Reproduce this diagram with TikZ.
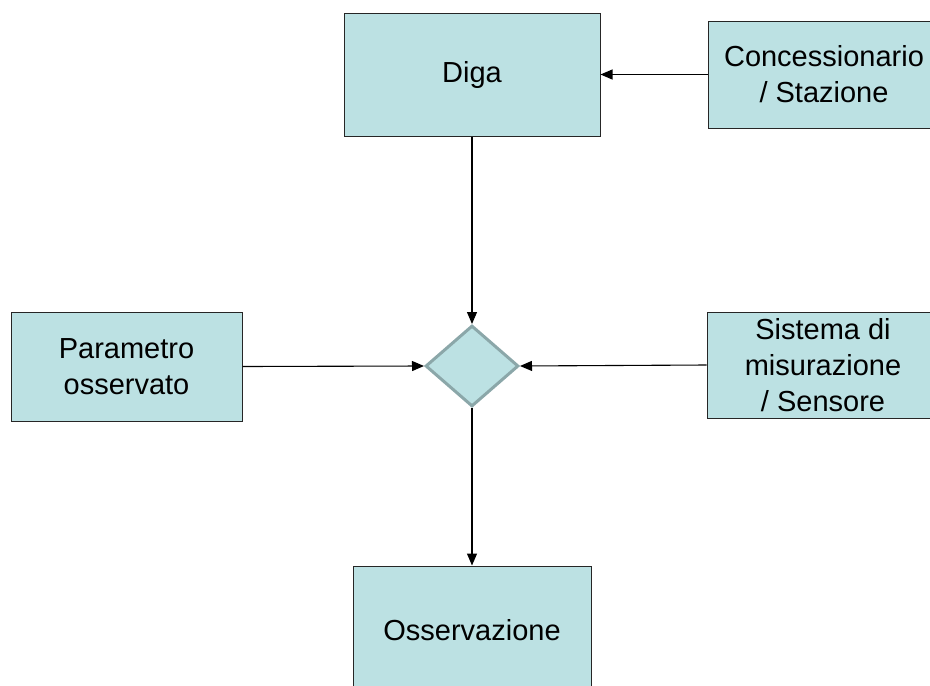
\documentclass[tikz,border=0pt]{standalone}
\usepackage{fontspec}
\setmainfont{Liberation Sans}
\usetikzlibrary{shapes.geometric,arrows.meta}
\definecolor{boxfill}{HTML}{BCE1E3}
\definecolor{diamline}{HTML}{8BA7A9}
\begin{document}
\begin{tikzpicture}[x=1pt,y=1pt,
  box/.style={draw=black!85,line width=1pt,fill=boxfill,align=center,inner sep=0pt,
    font=\fontsize{29}{36}\selectfont},
  conn/.style={draw=black,line width=1.1pt,-{Triangle[length=12pt,width=10pt]}}]
\useasboundingbox (0,0) rectangle (930,-686);
\clip (0,0) rectangle (930,-686);
\node[box,minimum width=256pt,minimum height=123pt] (diga) at (472,-74.5) {Diga};
\node[box,minimum width=232pt,minimum height=107pt] (conc) at (824,-74.5) {Concessionario\\/ Stazione};
\node[box,minimum width=231pt,minimum height=109pt] (param) at (126.5,-366.5) {Parametro\\osservato};
\node[box,minimum width=232pt,minimum height=106pt] (sist) at (823,-365) {Sistema di\\misurazione\\/ Sensore};
\node[box,minimum width=238pt,minimum height=128pt] (oss) at (472,-630) {Osservazione};
\node[diamond,draw=diamline,line width=3pt,fill=boxfill,inner sep=0pt,
  minimum width=93pt,minimum height=81pt] (dec) at (472,-366) {};
\draw[conn] (conc.west) -- (diga.east);
\draw[conn] (diga.south) -- (dec.north);
\draw[conn] (param.east) -- (dec.west);
\draw[conn] (sist.west) -- (dec.east);
\draw[conn] (dec.south) -- (oss.north);
\end{tikzpicture}
\end{document}
